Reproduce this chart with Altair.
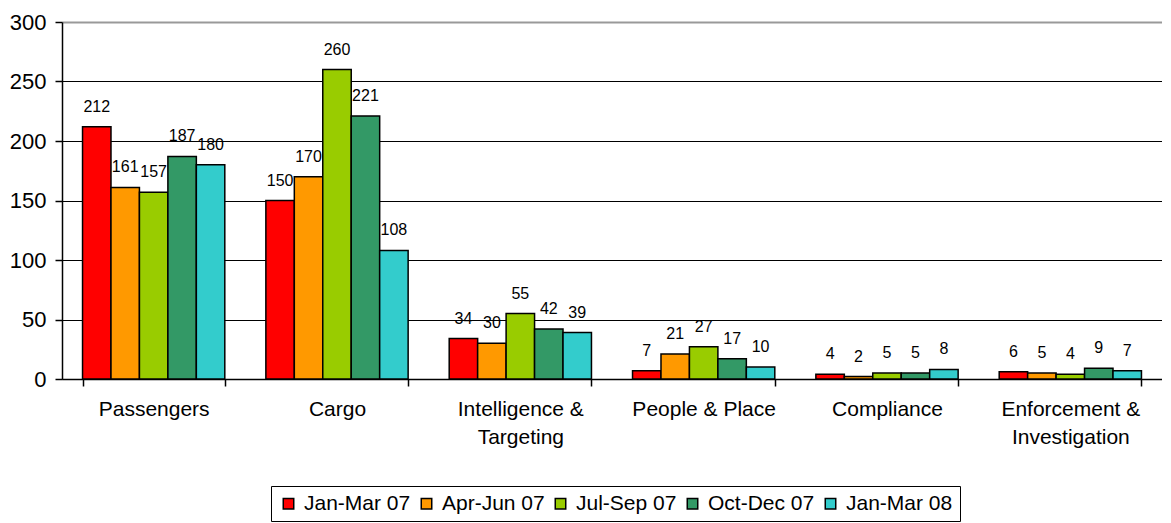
import altair as alt
import pandas as pd

categories = ["Passengers", "Cargo", "Intelligence & Targeting", "People & Place",
              "Compliance", "Enforcement & Investigation"]
series = ["Jan-Mar 07", "Apr-Jun 07", "Jul-Sep 07", "Oct-Dec 07", "Jan-Mar 08"]
colors = ["#FF0000", "#FF9900", "#99CC00", "#339966", "#33CCCC"]

jan_mar_07 = [212, 150, 34, 7, 4, 6]
apr_jun_07 = [161, 170, 30, 21, 2, 5]
jul_sep_07 = [157, 260, 55, 27, 5, 4]
oct_dec_07 = [187, 221, 42, 17, 5, 9]
jan_mar_08 = [180, 108, 39, 10, 8, 7]

values = [jan_mar_07, apr_jun_07, jul_sep_07, oct_dec_07, jan_mar_08]
rows = []
for s, vals in zip(series, values):
    for c, v in zip(categories, vals):
        rows.append({"category": c, "series": s, "value": v})
df = pd.DataFrame(rows)

FONT = "Liberation Sans"

# wrap only the two long category names (keep "People & Place" on one line)
label_expr = ("(datum.label == 'Intelligence & Targeting' || "
              "datum.label == 'Enforcement & Investigation') ? "
              "split(replace(datum.label, '& ', '&|'), '|') : datum.label")

x_enc = alt.X("category:N", sort=categories, title=None,
              scale=alt.Scale(paddingInner=0.224, paddingOuter=0.112),
              axis=alt.Axis(labelAngle=0, labelFontSize=21, labelFont=FONT,
                            labelColor="black", labelExpr=label_expr,
                            labelLineHeight=28, labelPadding=12, labelLimit=0,
                            tickBand="extent", tickSize=7, tickColor="black",
                            domainColor="black", domainWidth=1.5, grid=False))
xoff = alt.XOffset("series:N", sort=series,
                   scale=alt.Scale(paddingInner=0, paddingOuter=0))

base = alt.Chart(df)

bars = base.mark_bar(stroke="black", strokeWidth=1.5).encode(
    x=x_enc,
    xOffset=xoff,
    y=alt.Y("value:Q", title=None,
            scale=alt.Scale(domain=[0, 300], nice=False),
            axis=alt.Axis(values=[0, 50, 100, 150, 200, 250, 300],
                          labelFontSize=22, labelFont=FONT, labelColor="black",
                          labelPadding=9, tickSize=7, tickColor="black",
                          domainColor="black", domainWidth=1.5,
                          grid=True,
                          gridColor=alt.condition("datum.value == 300",
                                                  alt.value("#999999"),
                                                  alt.value("black")),
                          gridWidth=alt.condition("datum.value == 300",
                                                  alt.value(2),
                                                  alt.value(1)))),
    color=alt.Color("series:N", sort=series,
                    scale=alt.Scale(domain=series, range=colors),
                    legend=alt.Legend(title=None, orient="none",
                                      direction="horizontal", columns=5,
                                      legendX=209, legendY=464,
                                      symbolType="square", symbolSize=110,
                                      symbolStrokeColor="black",
                                      symbolStrokeWidth=1.5,
                                      symbolOpacity=1,
                                      labelFontSize=21, labelFont=FONT,
                                      labelColor="black", labelLimit=0,
                                      labelOffset=5,
                                      columnPadding=5, padding=7,
                                      strokeColor="black", fillColor="white",
                                      cornerRadius=0)),
)

texts = base.mark_text(baseline="middle", dy=-20, fontSize=16, font=FONT,
                       color="black").encode(
    x=alt.X("category:N", sort=categories),
    xOffset=xoff,
    y="value:Q",
    text="value:Q",
)

chart = alt.layer(bars, texts).properties(
    width=1100, height=357,
    padding={"left": 1, "top": 3, "right": 0, "bottom": 0},
).configure_view(stroke=None).configure_axis(tickWidth=1.5)

chart.save("out.html", embed_options={"renderer": "svg", "actions": False})
